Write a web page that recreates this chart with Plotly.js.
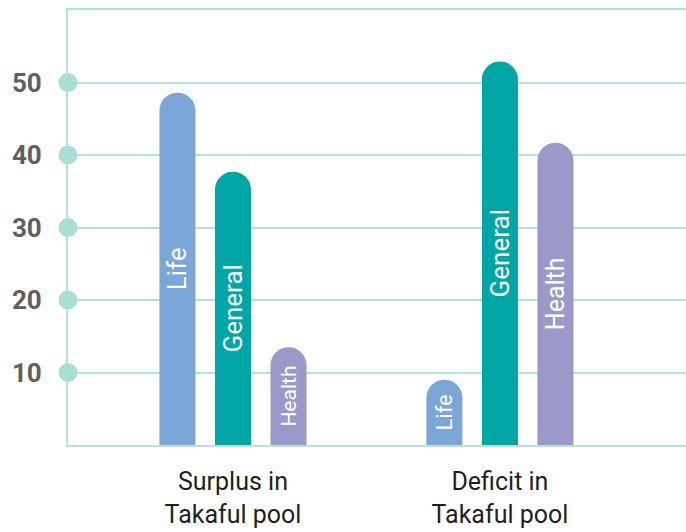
<!DOCTYPE html>
<html>
<head>
<meta charset="utf-8">
<script src="https://cdn.plot.ly/plotly-3.0.1.min.js"></script>
<style>html,body{margin:0;padding:0;background:#fff;}#chart{width:686px;height:532px;}</style>
</head>
<body>
<div id="chart"></div>
<script>
var categories = ["Surplus in<br>Takaful pool", "Deficit in<br>Takaful pool"];
var seriesNames = ["Life", "General", "Health"];
var lifeValues = [48.6, 9.0];
var generalValues = [37.7, 52.9];
var healthValues = [13.5, 41.7];
var labelSizes = {Life: [26, 22], General: [26, 26], Health: [21, 25]};
var yTickVals = [10, 20, 30, 40, 50, 60];
var yTickText = ["10", "20", "30", "40", "50", ""];
var markerVals = [10, 20, 30, 40, 50];

var colors = {Life: "#7BA6D8", General: "#00A6A6", Health: "#9A99CA"};
var gridColor = "#B4E3DB";
var fontFam = "Roboto, 'Liberation Sans', sans-serif";

function barTrace(name, vals) {
  return {
    type: "bar", name: name, x: categories, y: vals,
    text: vals.map(function(){ return name; }),
    textposition: "inside", insidetextanchor: "middle", textangle: -90,
    constraintext: "none",
    textfont: {family: fontFam, color: "#ffffff", size: labelSizes[name]},
    marker: {color: colors[name], cornerradius: "50%", line: {width: 0}},
    hoverinfo: "skip"
  };
}

var data = [
  barTrace("Life", lifeValues),
  barTrace("General", generalValues),
  barTrace("Health", healthValues),
  {
    type: "scatter", mode: "markers", xaxis: "x2", yaxis: "y",
    x: markerVals.map(function(){ return 0; }), y: markerVals,
    marker: {size: 19, color: "#A9DDD5"}, cliponaxis: false, hoverinfo: "skip"
  }
];

var layout = {
  width: 686, height: 532,
  margin: {l: 68, r: 0, t: 10, b: 87},
  paper_bgcolor: "#ffffff", plot_bgcolor: "#ffffff",
  showlegend: false,
  barmode: "group", bargap: 0.376, bargroupgap: 0.351,
  xaxis: {
    type: "category", range: [-0.618, 1.697],
    showgrid: false, zeroline: false,
    showline: true, mirror: true, linecolor: gridColor, linewidth: 2,
    ticks: "", ticklabelstandoff: 13,
    tickfont: {family: fontFam, size: 25, color: "#231F20"}
  },
  xaxis2: {overlaying: "x", range: [0, 1], visible: false, fixedrange: true},
  yaxis: {
    range: [0, 60], tickmode: "array", tickvals: yTickVals, ticktext: yTickText,
    showgrid: true, gridcolor: gridColor, gridwidth: 2,
    zeroline: false, showline: true, linecolor: gridColor, linewidth: 2,
    ticks: "", ticklabelstandoff: 19, layer: "below traces",
    tickfont: {family: fontFam, size: 26, color: "#5F5F5F", weight: "bold"}
  }
};

Plotly.newPlot("chart", data, layout, {displayModeBar: false, staticPlot: true});
</script>
</body>
</html>
